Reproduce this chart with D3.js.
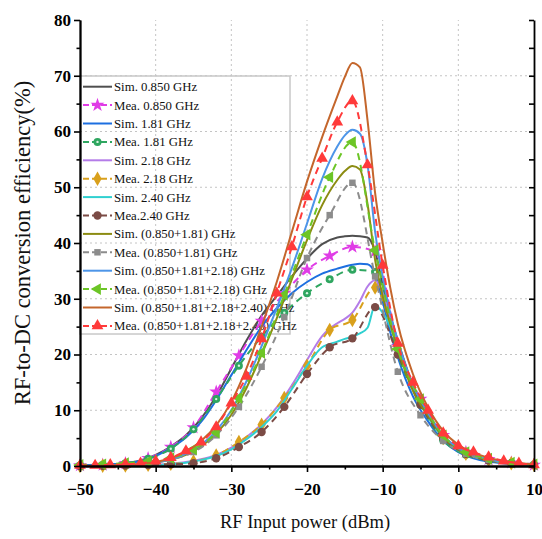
<!DOCTYPE html>
<html>
<head>
<meta charset="utf-8">
<style>
  body { margin: 0; background: #fff; }
  svg { font-family: "Liberation Serif", "Times New Roman", serif; }
</style>
</head>
<body>
<svg id="chart"></svg>
<script src="https://cdnjs.cloudflare.com/ajax/libs/d3/7.8.5/d3.min.js"></script>
<script>
  // x grids (dBm)
  const xSim = [-50, -46, -44, -42, -40, -38, -36, -34, -32, -30, -28, -26, -24, -22, -20, -18, -16, -15, -14, -13,
    -12, -11, -10, -9, -8, -6, -4, -2, 0, 2, 4, 6, 8, 10];
  const xMea3 = [-50, -47, -44, -41, -38, -35, -32, -29, -26, -23, -20, -17, -14, -11, -8, -5, -2, 1, 4, 7, 10];
  const xMea2 = [-50, -48, -46, -44, -42, -40, -38, -36, -34, -32, -30, -28, -26, -24, -22, -20, -18, -16, -14, -12,
    -10, -8, -6, -4, -2, 0, 2, 4, 6, 8, 10];

  // efficiency values (%)
  const sim850 = [0.1, 0.3, 0.5, 1.0, 2.0, 3.5, 5.5, 8.5, 12.5, 17.5, 22.5, 27, 30.5, 34, 37.2, 39.8, 41, 41.2, 41.3, 41.2,
    41, 38.5, 32.5, 27, 22.5, 14.5, 9.2, 5.3, 3, 1.8, 1.1, 0.6, 0.3, 0.15];
  const mea850 = [0.1, 0.2, 0.5, 1.4, 3.4, 6.9, 13.3, 19.8, 26, 31, 35.2, 37.7, 39.3, 38.5, 21.5, 12, 5.5, 2.5, 1.2, 0.6, 0.2];
  const sim181 = [0.05, 0.3, 0.5, 0.9, 1.8, 3.2, 5.1, 7.9, 11.8, 16.3, 20.8, 25, 28.3, 31, 33, 34.5, 35.4, 35.8, 36.1, 36.3,
    36.2, 34.5, 29.5, 24, 19.5, 12.5, 8, 4.5, 2.5, 1.4, 0.8, 0.45, 0.2, 0.1];
  const mea181 = [0.1, 0.2, 0.5, 1.3, 3.1, 6.6, 12, 18, 23.2, 27.5, 31, 33.5, 35.2, 34.8, 20, 11, 4.6, 2, 1, 0.5, 0.2];
  const sim218 = [0, 0.05, 0.07, 0.1, 0.2, 0.4, 0.7, 1.2, 2, 3.3, 5.2, 7.5, 10.5, 14.5, 19, 23.3, 25.6, 26.4, 27.5, 29.6,
    32.2, 33.3, 31, 26.5, 22, 14.2, 9, 5.2, 3, 1.8, 1.1, 0.6, 0.3, 0.15];
  const mea218 = [0, 0.05, 0.1, 0.2, 0.4, 0.8, 1.9, 4.3, 7.4, 12.2, 18, 24.4, 26.2, 32, 21, 11.5, 5, 2.2, 1.1, 0.5, 0.2];
  const sim240 = [0, 0.03, 0.05, 0.08, 0.15, 0.3, 0.6, 1.05, 1.8, 3, 4.8, 7, 9.8, 13.8, 18, 21.3, 22.3, 22.8, 23.2, 23.8,
    24.8, 28.8, 27.5, 25, 21.3, 13.8, 8.8, 5, 2.8, 1.7, 1, 0.55, 0.3, 0.15];
  const mea240 = [0, 0.05, 0.1, 0.15, 0.3, 0.5, 1.4, 3.4, 6.1, 10.6, 16.5, 21.3, 22.9, 28.5, 20, 11, 5, 2.2, 1, 0.5, 0.2];
  const simAB = [0, 0.1, 0.2, 0.3, 0.6, 1.1, 2, 3.5, 5.8, 9.2, 14, 20, 26.5, 33.5, 40.5, 46.8, 51.3, 52.9, 53.8, 53.2,
    47, 37, 30.5, 25.5, 21, 13.5, 9, 5.2, 3, 1.8, 1.1, 0.6, 0.3, 0.15];
  const meaAB = [0.1, 0.2, 0.4, 0.7, 1.2, 2.5, 5.5, 10.6, 17.8, 26.7, 37.3, 45, 50.8, 34, 16.9, 9.1, 4.5, 2.2, 1.1, 0.5, 0.2];
  const simABC = [0, 0.1, 0.2, 0.3, 0.6, 1.2, 2.2, 3.8, 6.3, 10, 15.2, 21.5, 28.3, 35.5, 43.5, 51.5, 57.3, 59.3, 60.3, 59.6,
    54, 42, 34, 27.5, 22.5, 14.5, 9.5, 5.5, 3.2, 2, 1.2, 0.7, 0.4, 0.2];
  const meaABC = [0.2, 0.3, 0.5, 0.8, 1.4, 3, 6, 12.2, 20.3, 30.7, 41.5, 51.8, 58.1, 38.7, 21, 12, 5.5, 2.5, 1.3, 0.6, 0.3];
  const simAll = [0, 0.1, 0.2, 0.35, 0.7, 1.4, 2.6, 4.5, 7.3, 11.5, 17.5, 25, 33, 42, 51, 59, 66.3, 69.8, 72.3, 71.5,
    62, 49, 40, 32, 25.5, 16.5, 10.5, 6.3, 3.8, 2.4, 1.5, 0.9, 0.5, 0.3];
  const meaAll = [0.1, 0.1, 0.2, 0.3, 0.5, 0.9, 1.5, 2.7, 4.3, 7, 11.3, 16.1, 22.8, 31, 39.3, 48.3, 55.2, 61.7, 65.5, 54,
    36, 22, 15, 10, 5.9, 3.6, 2.5, 1.6, 0.9, 0.5, 0.2];

  const legendLabels = ['Sim. 0.850 GHz', 'Mea. 0.850 GHz', 'Sim. 1.81 GHz', 'Mea. 1.81 GHz', 'Sim. 2.18 GHz',
    'Mea. 2.18 GHz', 'Sim. 2.40 GHz', 'Mea.2.40 GHz', 'Sim. (0.850+1.81) GHz', 'Mea. (0.850+1.81) GHz',
    'Sim. (0.850+1.81+2.18) GHz', 'Mea. (0.850+1.81+2.18) GHz', 'Sim. (0.850+1.81+2.18+2.40) GHz',
    'Mea. (0.850+1.81+2.18+2.40) GHz'];
  const xTicks = [-50, -40, -30, -20, -10, 0, 10];
  const yTicks = [0, 10, 20, 30, 40, 50, 60, 70, 80];

  const series = [
    { xs: xSim, ys: sim850, color: '#4f4f4f' },
    { xs: xMea3, ys: mea850, color: '#e03ce6', marker: 'star' },
    { xs: xSim, ys: sim181, color: '#1d6fe0' },
    { xs: xMea3, ys: mea181, color: '#2fa660', marker: 'ring' },
    { xs: xSim, ys: sim218, color: '#b47ce8' },
    { xs: xMea3, ys: mea218, color: '#d9a01c', marker: 'diamond' },
    { xs: xSim, ys: sim240, color: '#2fd0d0' },
    { xs: xMea3, ys: mea240, color: '#7b4b45', marker: 'circle' },
    { xs: xSim, ys: simAB, color: '#8c8c12' },
    { xs: xMea3, ys: meaAB, color: '#8c8c8c', marker: 'square' },
    { xs: xSim, ys: simABC, color: '#4d95e8' },
    { xs: xMea3, ys: meaABC, color: '#6cc526', marker: 'left' },
    { xs: xSim, ys: simAll, color: '#c4662c' },
    { xs: xMea2, ys: meaAll, color: '#ff3a3a', marker: 'tri' }
  ];

  const width = 542, height = 539;
  const svg = d3.select('#chart').attr('width', width).attr('height', height);

  const x = d3.scaleLinear().domain([-50, 10]).range([80, 534]);
  const y = d3.scaleLinear().domain([0, 80]).range([466, 20]);

  // dotted grid
  const grid = svg.append('g').attr('stroke', '#c4c4c4').attr('stroke-width', 1).attr('stroke-dasharray', '2,3');
  grid.selectAll('.gx').data(xTicks.slice(1, -1)).enter().append('line')
    .attr('x1', d => x(d)).attr('x2', d => x(d)).attr('y1', y(0)).attr('y2', y(80));
  grid.selectAll('.gy').data(yTicks.slice(1, -1)).enter().append('line')
    .attr('x1', x(-50)).attr('x2', x(10)).attr('y1', d => y(d)).attr('y2', d => y(d));

  // legend (transparent, drawn below curves)
  const legend = svg.append('g');
  legend.append('rect').attr('x', 80).attr('y', 76).attr('width', 210).attr('height', 258)
    .attr('fill', 'none').attr('stroke', '#c8c8c8').attr('stroke-width', 1.5);

  const line = d3.line().curve(d3.curveMonotoneX);
  const symbols = {
    star: d3.symbol().type(d3.symbolStar).size(60),
    ring: d3.symbol().type(d3.symbolCircle).size(50),
    circle: d3.symbol().type(d3.symbolCircle).size(55),
    diamond: d3.symbol().type(d3.symbolDiamond).size(60),
    square: d3.symbol().type(d3.symbolSquare).size(42),
    tri: d3.symbol().type(d3.symbolTriangle).size(60),
    left: d3.symbol().type(d3.symbolTriangle).size(60)
  };

  function addMarker(g, s, cx, cy) {
    const m = g.append('path').attr('d', symbols[s.marker]())
      .attr('fill', s.color)
      .attr('transform', `translate(${cx},${cy})` + (s.marker === 'left' ? ' rotate(-90)' : ''));
    if (s.marker === 'ring') {
      g.append('circle').attr('cx', cx).attr('cy', cy).attr('r', 1.2).attr('fill', '#d8f5e2');
    }
    return m;
  }

  series.forEach((s, i) => {
    const ly = 86.7 + i * 18.4;
    legend.append('line').attr('x1', 83).attr('x2', 112).attr('y1', ly).attr('y2', ly)
      .attr('stroke', s.color).attr('stroke-width', 2)
      .attr('stroke-dasharray', s.marker ? '6,3' : null);
    if (s.marker) addMarker(legend, s, 97.5, ly);
    legend.append('text').attr('x', 114).attr('y', ly + 4.5)
      .attr('font-size', 12.8).attr('fill', '#111').text(legendLabels[i]);
  });

  // curves
  const plot = svg.append('g');
  series.forEach(s => {
    const pts = s.xs.map((d, k) => [x(d), y(s.ys[k])]);
    plot.append('path').attr('d', line(pts)).attr('fill', 'none')
      .attr('stroke', s.color).attr('stroke-width', 2)
      .attr('stroke-dasharray', s.marker ? '7,5' : null);
    if (s.marker) {
      const mg = plot.append('g');
      pts.forEach(p => addMarker(mg, s, p[0], p[1]));
    }
  });

  // axes
  const boldTicks = g => g.selectAll('text').attr('font-size', 17).attr('font-weight', 'bold')
    .attr('fill', '#000').attr('font-family', '"Liberation Serif", "Times New Roman", serif');
  const axisStyle = g => {
    g.select('.domain').attr('stroke', '#000').attr('stroke-width', 1.8);
    g.selectAll('.tick line').attr('stroke', '#000').attr('stroke-width', 1.6);
  };

  svg.append('g').attr('transform', `translate(0,${y(0)})`)
    .call(d3.axisBottom(x).tickValues(xTicks).tickSize(6).tickSizeOuter(0).tickPadding(11))
    .call(axisStyle).call(boldTicks);
  svg.append('g').attr('transform', `translate(0,${y(0)})`)
    .call(d3.axisBottom(x).tickValues([-45, -35, -25, -15, -5, 5]).tickSize(3.5).tickSizeOuter(0).tickFormat(''))
    .call(axisStyle);
  svg.append('g').attr('transform', `translate(${x(-50)},0)`)
    .call(d3.axisLeft(y).tickValues(yTicks).tickSize(6).tickSizeOuter(0).tickPadding(3))
    .call(axisStyle).call(boldTicks);
  svg.append('g').attr('transform', `translate(${x(-50)},0)`)
    .call(d3.axisLeft(y).tickValues([5, 15, 25, 35, 45, 55, 65, 75]).tickSize(3.5).tickSizeOuter(0).tickFormat(''))
    .call(axisStyle);
  svg.append('g').attr('transform', `translate(${x(10)},0)`)
    .call(d3.axisLeft(y).tickValues(d3.range(0, 81, 5)).tickSize(5).tickSizeOuter(0).tickFormat(''))
    .call(axisStyle);

  // axis titles
  svg.append('text').attr('x', 305).attr('y', 528)
    .attr('text-anchor', 'middle').attr('font-size', 18.5).attr('fill', '#111')
    .text('RF Input power (dBm)');
  svg.append('text').attr('transform', `translate(30,${(y(0) + y(80)) / 2}) rotate(-90)`)
    .attr('text-anchor', 'middle').attr('font-size', 22.5).attr('fill', '#111')
    .text('RF-to-DC conversion efficiency(%)');
</script>
</body>
</html>
